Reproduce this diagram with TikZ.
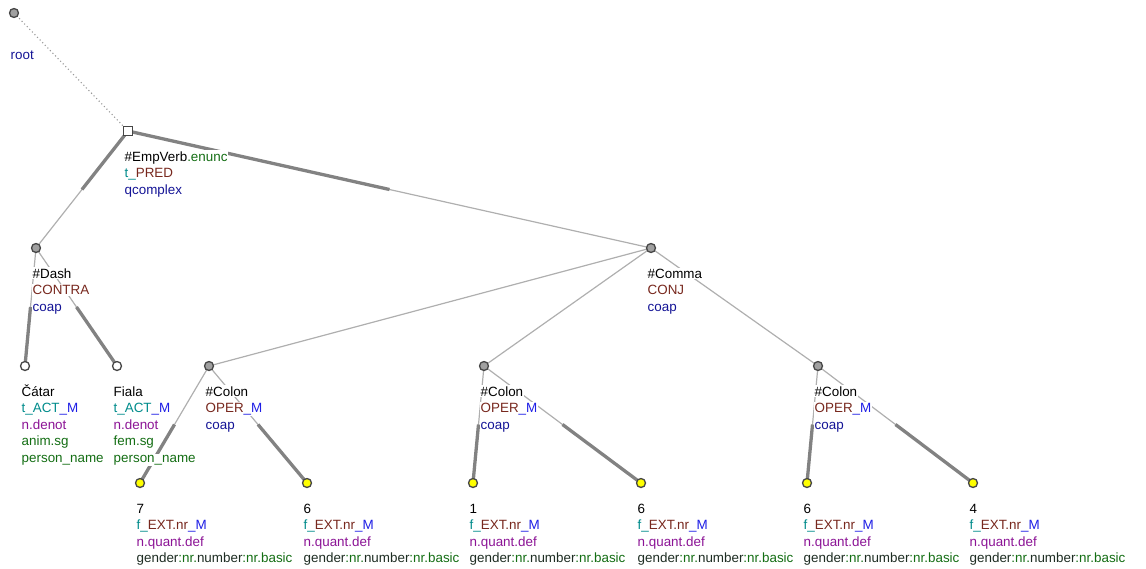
\documentclass[tikz,border=0pt]{standalone}
\usepackage{fontspec}
\setmainfont{Liberation Sans}
\usetikzlibrary{calc,backgrounds}
\definecolor{cteal}{RGB}{0,140,140}
\definecolor{cbrown}{RGB}{120,40,30}
\definecolor{cblue}{RGB}{30,30,230}
\definecolor{cnavy}{RGB}{20,20,150}
\definecolor{cpurple}{RGB}{140,20,150}
\definecolor{cgreen}{RGB}{20,110,20}
\definecolor{cdark}{RGB}{30,45,35}
\definecolor{edgegray}{RGB}{175,175,175}
\definecolor{thickgray}{RGB}{130,130,130}
\definecolor{nodegray}{RGB}{160,160,160}
\definecolor{nodeborder}{RGB}{70,70,70}
\definecolor{nodeyellow}{RGB}{255,255,0}
\begin{document}
\begin{tikzpicture}[x=1pt,y=-1pt,
  thinedge/.style={draw=edgegray, line width=1.2pt},
  thickedge/.style={draw=thickgray, line width=3.3pt},
  rootedge/.style={draw=gray!80, line width=1.1pt, dash pattern=on 1.1pt off 2.6pt},
  nd/.style={circle, draw=nodeborder, line width=1.3pt, fill=nodegray, minimum size=9pt, inner sep=0pt},
  wnd/.style={nd, fill=white},
  ynd/.style={nd, fill=nodeyellow},
  sqnd/.style={rectangle, draw=nodeborder, line width=1.2pt, fill=white, minimum size=9pt, inner sep=0pt},
  lbl/.style={anchor=base west, fill=white, inner xsep=0.5pt, inner ysep=1pt, font=\fontsize{13.4}{15}\selectfont}]
\useasboundingbox (0,0) rectangle (1146,568);
% nodes
\node[nd] (root) at (14,13) {};
\node[sqnd] (emp) at (128,131) {};
\node[nd] (dash) at (36,248) {};
\node[nd] (comma) at (651,248) {};
\node[wnd] (catar) at (25,366) {};
\node[wnd] (fiala) at (117,366) {};
\node[nd] (colA) at (209,366) {};
\node[nd] (colB) at (484,366) {};
\node[nd] (colC) at (818,366) {};
\node[ynd] (l1) at (140,483) {};
\node[ynd] (l2) at (307,483) {};
\node[ynd] (l3) at (473,483) {};
\node[ynd] (l4) at (641,483) {};
\node[ynd] (l5) at (807,483) {};
\node[ynd] (l6) at (973,483) {};
% edges
\begin{scope}[on background layer]
\draw[rootedge] (root.center) -- (emp.center);
\foreach \p/\c in {emp/dash, emp/comma, dash/catar, dash/fiala, comma/colA, comma/colB, comma/colC, colA/l1, colA/l2, colB/l3, colB/l4, colC/l5, colC/l6}
  \draw[thinedge] (\p.center) -- (\c.center);
\foreach \p/\c in {emp/dash, emp/comma}
  \draw[thickedge] (\p.center) -- ($(\p.center)!0.5!(\c.center)$);
\foreach \p/\c in {dash/catar, dash/fiala, colA/l1, colA/l2, colB/l3, colB/l4, colC/l5, colC/l6}
  \draw[thickedge] ($(\p.center)!0.5!(\c.center)$) -- (\c.center);
\end{scope}
% labels
\node[lbl] (t-root) at (10,59) {\textcolor{cnavy}{root}};
\node[lbl] (t-emp1) at (124,161) {\textcolor{black}{\#EmpVerb}\textcolor{cgreen}{.enunc}};
\node[lbl] (t-emp2) at (124,177.6) {\textcolor{cteal}{t\_}\textcolor{cbrown}{PRED}};
\node[lbl] (t-emp3) at (124,194.2) {\textcolor{cnavy}{qcomplex}};
\node[lbl] (t-dash1) at (32,278) {\#Dash};
\node[lbl] (t-dash2) at (32,294.6) {\textcolor{cbrown}{CONTRA}};
\node[lbl] (t-dash3) at (32,311.2) {\textcolor{cnavy}{coap}};
\node[lbl] (t-com1) at (647,278) {\#Comma};
\node[lbl] (t-com2) at (647,294.6) {\textcolor{cbrown}{CONJ}};
\node[lbl] (t-com3) at (647,311.2) {\textcolor{cnavy}{coap}};
\node[lbl] (t-cat1) at (21,396) {Čátar};
\node[lbl] (t-cat2) at (21,412.6) {\textcolor{cteal}{t\_ACT}\textcolor{cblue}{\_M}};
\node[lbl] (t-cat3) at (21,429.2) {\textcolor{cpurple}{n.denot}};
\node[lbl] (t-cat4) at (21,445.8) {\textcolor{cgreen}{anim.sg}};
\node[lbl] (t-cat5) at (21,462.4) {\textcolor{cgreen}{person\_name}};
\node[lbl] (t-fia1) at (113,396) {Fiala};
\node[lbl] (t-fia2) at (113,412.6) {\textcolor{cteal}{t\_ACT}\textcolor{cblue}{\_M}};
\node[lbl] (t-fia3) at (113,429.2) {\textcolor{cpurple}{n.denot}};
\node[lbl] (t-fia4) at (113,445.8) {\textcolor{cgreen}{fem.sg}};
\node[lbl] (t-fia5) at (113,462.4) {\textcolor{cgreen}{person\_name}};
\foreach \n/\x in {colA/205, colB/480, colC/814} {
  \node[lbl] (t-\n1) at (\x,396) {\#Colon};
  \node[lbl] (t-\n2) at (\x,412.6) {\textcolor{cbrown}{OPER}\textcolor{cblue}{\_M}};
  \node[lbl] (t-\n3) at (\x,429.2) {\textcolor{cnavy}{coap}};
}
\foreach \n/\x/\w in {l1/136/7, l2/303/6, l3/469/1, l4/637/6, l5/803/6, l6/969/4} {
  \node[lbl] (t-\n1) at (\x,513) {\w};
  \node[lbl] (t-\n2) at (\x,529.6) {\textcolor{cteal}{f\_}\textcolor{cbrown}{EXT.nr}\textcolor{cblue}{\_M}};
  \node[lbl] (t-\n3) at (\x,546.2) {\textcolor{cpurple}{n.quant.def}};
  \node[lbl] (t-\n4) at (\x,562.8) {\textcolor{cdark}{gender}\textcolor{cgreen}{:nr.}\textcolor{cdark}{number}\textcolor{cgreen}{:nr.basic}};
}
\end{tikzpicture}
\end{document}
